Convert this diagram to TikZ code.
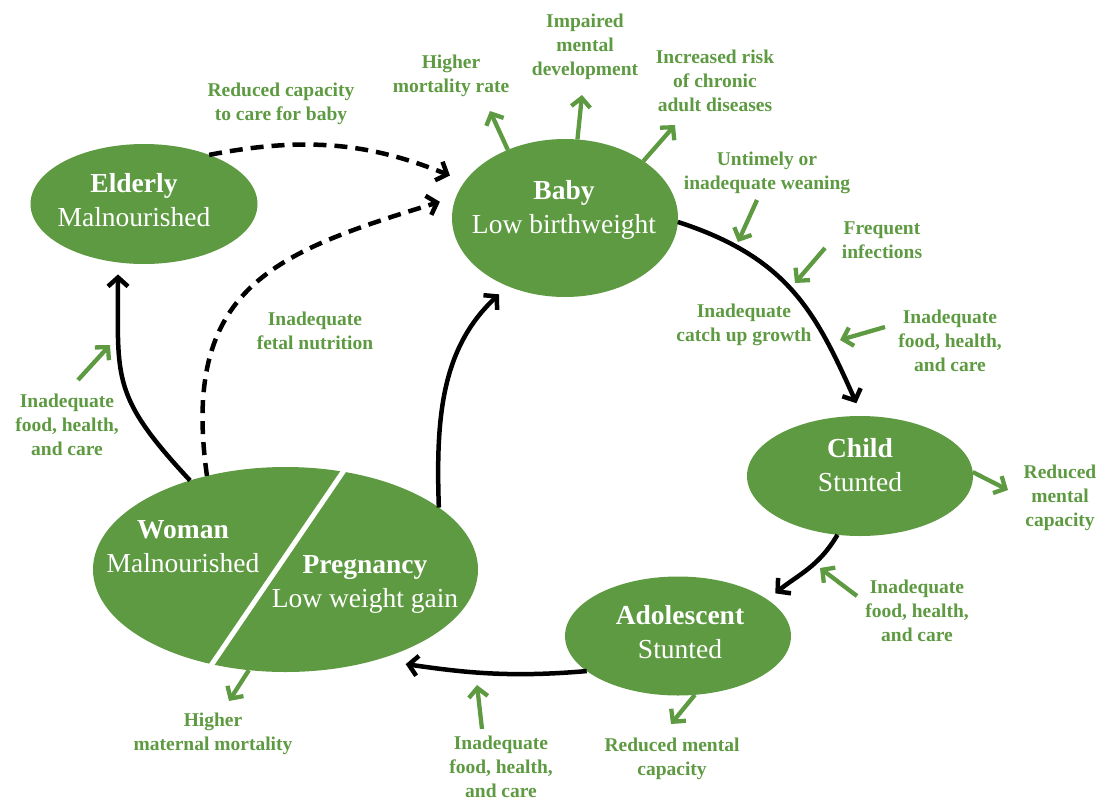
\documentclass[tikz,border=0pt]{standalone}
\usepackage{fontspec}
\setmainfont{Liberation Serif}
\usetikzlibrary{shapes.geometric,arrows.meta}
\definecolor{lifegreen}{RGB}{94,154,66}

\begin{document}
\begin{tikzpicture}[x=1pt,y=-1pt,
    stage/.style={ellipse,fill=lifegreen,inner sep=0pt,outer sep=0pt},
    stagetext/.style={text=white,align=center,inner sep=0pt,font=\fontsize{27.5}{34}\selectfont},
    note/.style={text=lifegreen,align=center,inner sep=0pt,font=\bfseries\fontsize{19.5}{24}\selectfont},
    cycle/.style={line width=4.5pt,-{Straight Barb[length=9pt,width=20pt]}},
    dashcycle/.style={cycle,dash pattern=on 13pt off 8pt},
    feed/.style={draw=lifegreen,line width=4.3pt,-{Straight Barb[length=9pt,width=19pt]}}]
  \useasboundingbox (0,0) rectangle (1098,801);
  % life stages
  \node[stage,minimum width=227pt,minimum height=120pt] (elderly) at (144,204) {};
  \node[stage,minimum width=226pt,minimum height=158pt] (baby) at (565,218) {};
  \node[stage,minimum width=226pt,minimum height=120pt] (child) at (860,476) {};
  \node[stage,minimum width=226pt,minimum height=119pt] (adol) at (678,636) {};
  \node[stage,minimum width=385pt,minimum height=205pt] (wp) at (285.5,569.5) {};
  \draw[white,line width=5pt] (347,466) -- (210,667);
  \node[stagetext] (elderlyTxt) at (134,200) {\textbf{Elderly}\\Malnourished};
  \node[stagetext] (babyTxt) at (564,210) {\textbf{Baby}\\Low birthweight};
  \node[stagetext] (childTxt) at (860,465) {\textbf{Child}\\Stunted};
  \node[stagetext] (adolTxt) at (680,632) {\textbf{Adolescent}\\Stunted};
  \node[stagetext] (womanTxt) at (183,547) {\textbf{Woman}\\Malnourished};
  \node[stagetext] (pregTxt) at (365,584) {\textbf{Pregnancy}\\Low weight gain};
  % the cycle
  \draw[cycle,shorten >=14pt] (baby.-2) to[out=-18,in=114,looseness=1.1] (child.88);
  \draw[cycle,shorten >=10pt] (child.-111) to[out=-120,in=40] (adol.22);
  \draw[cycle,shorten >=30pt] (adol.-159) to[out=185,in=-8] (wp.-45);
  \draw[cycle,shorten >=12pt] (wp.22.5) to[out=92,in=-137] (baby.-130);
  \draw[cycle,shorten >=12pt] (wp.137.5) to[out=133,in=-90,looseness=1.3] (elderly.-114);
  \draw[dashcycle,shorten >=16pt] (elderly.37) to[out=11,in=158] (baby.160);
  \draw[dashcycle,shorten >=17pt] (wp.130) to[out=98,in=-163,looseness=1.3] (baby.169);
  % labels
  \node[note] (careLbl) at (281,104) {Reduced capacity\\to care for baby};
  \node[note] (mortLbl) at (451,76) {Higher\\mortality rate};
  \node[note] (mentLbl) at (585,47) {Impaired\\mental\\development};
  \node[note] (chronLbl) at (715,81) {Increased risk\\of chronic\\adult diseases};
  \node[note] (weanLbl) at (767,173) {Untimely or\\inadequate weaning};
  \node[note] (infLbl) at (882,240) {Frequent\\infections};
  \node[note] (catchLbl) at (744,325) {Inadequate\\catch up growth};
  \node[note] (foodA) at (950,341) {Inadequate\\food, health,\\and care};
  \node[note] (capA) at (1060,498) {Reduced\\mental\\capacity};
  \node[note] (foodB) at (917,611) {Inadequate\\food, health,\\and care};
  \node[note] (capB) at (672,759) {Reduced mental\\capacity};
  \node[note] (foodC) at (501,767) {Inadequate\\food, health,\\and care};
  \node[note] (matLbl) at (213,734) {Higher\\maternal mortality};
  \node[note] (fetalLbl) at (315,331) {Inadequate\\fetal nutrition};
  \node[note] (foodD) at (67,425) {Inadequate\\food, health,\\and care};
  % free ends of the green arrows
  \coordinate (mortTip) at (490,111);
  \coordinate (mentTip) at (582,95);
  \coordinate (chronTip) at (675,125);
  \coordinate (capATip) at (1008,490);
  \coordinate (capBTip) at (671,724);
  \coordinate (matTip) at (229,701);
  \coordinate (weanTail) at (757,200);
  \coordinate (weanTip) at (738,242);
  \coordinate (infTail) at (825,248);
  \coordinate (infTip) at (795,283);
  \coordinate (foodATail) at (885,327);
  \coordinate (foodATip) at (840,340);
  \coordinate (foodBTail) at (857,596);
  \coordinate (foodBTip) at (820,568);
  \coordinate (foodCTail) at (482,729);
  \coordinate (foodCTip) at (477,685);
  \coordinate (foodDTail) at (78,380);
  \coordinate (foodDTip) at (110,345);
  % effects and causes
  \draw[feed] (baby.130) -- (mortTip);
  \draw[feed] (baby.81) -- (mentTip);
  \draw[feed] (baby.36) -- (chronTip);
  \draw[feed] (child.2) -- (capATip);
  \draw[feed] (adol.-74) -- (capBTip);
  \draw[feed] (wp.-110) -- (matTip);
  \draw[feed] (weanTail) -- (weanTip);
  \draw[feed] (infTail) -- (infTip);
  \draw[feed] (foodATail) -- (foodATip);
  \draw[feed] (foodBTail) -- (foodBTip);
  \draw[feed] (foodCTail) -- (foodCTip);
  \draw[feed] (foodDTail) -- (foodDTip);
\end{tikzpicture}
\end{document}
